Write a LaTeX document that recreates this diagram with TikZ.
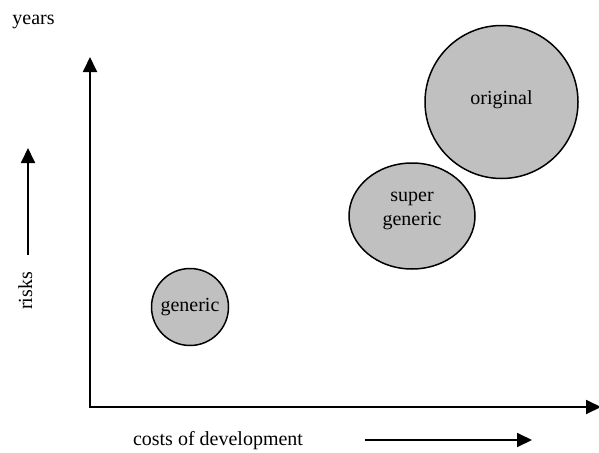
\documentclass[tikz,border=0pt]{standalone}
\usepackage{fontspec}
\setmainfont{Liberation Serif}
\usetikzlibrary{arrows.meta}
\definecolor{blobgray}{RGB}{192,192,192}

\begin{document}
\begin{tikzpicture}[x=.6pt,y=-.6pt,font=\fontsize{12}{14}\selectfont,
  blob/.style={draw,line width=.9pt,fill=blobgray},
  tip/.style={-{Triangle[length=9pt,width=8.4pt]}},
  axis/.style={line width=1.1pt,{Triangle[length=9pt,width=8.4pt]}-{Triangle[length=9pt,width=8.4pt]}}]
  \useasboundingbox (0,0) rectangle (599,452);
  % axes
  \coordinate (ytop) at (90,57);
  \coordinate (orig) at (90,407);
  \coordinate (xend) at (601,407);
  \draw[axis] (ytop) -- (orig) -- (xend);
  \node[anchor=base] (years) at (33.5,25) {years};
  % direction arrows
  \coordinate (risklo) at (28,255);
  \coordinate (riskhi) at (28,148);
  \draw[line width=1.1pt,tip] (risklo) -- (riskhi);
  \node[rotate=90,anchor=base] (risks) at (32,291) {risks};
  \node[anchor=base] (costs) at (218,445) {costs of development};
  \coordinate (costlo) at (365,440);
  \coordinate (costhi) at (532,440);
  \draw[line width=1.1pt,tip] (costlo) -- (costhi);
  % products
  \draw[blob] (190,307) ellipse [x radius=38.5, y radius=38.5];
  \node (generic) at (190,307) {generic};
  \draw[blob] (412,216) ellipse [x radius=63, y radius=53];
  \node[align=center] (super) at (412,211) {super\\generic};
  \draw[blob] (501.5,102) ellipse [x radius=76.5, y radius=76.5];
  \node (original) at (501.5,100) {original};
\end{tikzpicture}
\end{document}
